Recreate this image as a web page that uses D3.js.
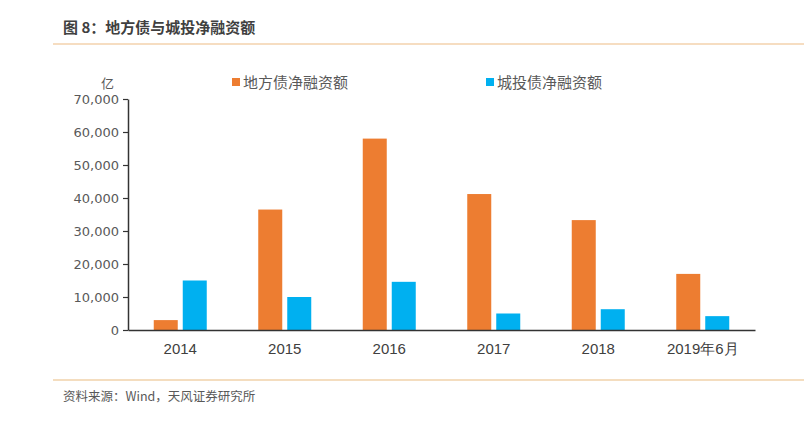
<!DOCTYPE html>
<html><head><meta charset="utf-8">
<script src="https://cdn.jsdelivr.net/npm/d3@7"></script>
<style>body{margin:0;background:#fff;}svg{display:block;font-family:"Noto Sans CJK SC","Liberation Sans",Arial,sans-serif;}</style>
</head><body><svg id="c" width="804" height="427"></svg>
<script>
const categories = ["2014","2015","2016","2017","2018","2019年6月"];
const localBond = [3000, 36500, 58000, 41200, 33300, 17000];
const lgfvBond  = [15000, 10000, 14600, 5000, 6300, 4200];
const seriesNames = ["地方债净融资额","城投债净融资额"];
const yTicks = [0,10000,20000,30000,40000,50000,60000,70000];

const svg = d3.select("#c");
const colors = ["#ED7D31","#00B0F0"];
const x = d3.scaleBand().domain(categories).range([128,755]);
const y = d3.scaleLinear().domain([0,70000]).range([330,99]);

// header
svg.append("text").attr("x",63).attr("y",33).attr("font-size",15).attr("font-weight","bold")
  .attr("fill","#404040").text("图 8：地方债与城投净融资额");
svg.append("line").attr("x1",53).attr("x2",804).attr("y1",44).attr("y2",44).attr("stroke","#F3D2AC").attr("stroke-width",1.5);
svg.append("line").attr("x1",53).attr("x2",804).attr("y1",380).attr("y2",380).attr("stroke","#E9BB80").attr("stroke-width",1.2);
svg.append("text").attr("x",63).attr("y",401).attr("font-size",12.5).attr("fill","#595959").text("资料来源：Wind，天风证券研究所");

// bars
const series = [localBond, lgfvBond];
const bw = 24, off = [-26.5, 2.5];
series.forEach((vals,si)=>{
  svg.append("g").selectAll("rect").data(vals).join("rect")
    .attr("x",(d,i)=>x(categories[i])+x.bandwidth()/2+off[si])
    .attr("width",bw)
    .attr("y",d=>y(d)).attr("height",d=>y(0)-y(d))
    .attr("fill",colors[si]);
});

// y axis
const ya = svg.append("g").attr("transform","translate(128,0)")
  .call(d3.axisLeft(y).tickValues(yTicks).tickSize(5).tickSizeOuter(0).tickPadding(4).tickFormat(d3.format(",")));
ya.select(".domain").attr("stroke","#333").attr("stroke-width",1.5);
ya.selectAll(".tick line").attr("stroke","#333").attr("stroke-width",1.2);
ya.selectAll(".tick text").attr("font-size",13).attr("fill","#595959").attr("font-family","'DejaVu Sans',Verdana,sans-serif");
svg.append("text").attr("x",114).attr("y",88).attr("text-anchor","end").attr("font-size",13).attr("fill","#595959").text("亿");

// x axis
const xa = svg.append("g").attr("transform","translate(0,330)")
  .call(d3.axisBottom(x).tickSize(0).tickPadding(13));
xa.select(".domain").attr("stroke","#333").attr("stroke-width",1.5);
xa.selectAll(".tick text").attr("font-size",15).attr("fill","#404040");

// legend
const legX = [232, 486];
seriesNames.forEach((n,i)=>{
  svg.append("rect").attr("x",legX[i]).attr("y",78).attr("width",8).attr("height",8).attr("fill",colors[i]);
  svg.append("text").attr("x",legX[i]+11).attr("y",87.5).attr("font-size",15).attr("fill","#595959").text(n);
});
</script></body></html>
